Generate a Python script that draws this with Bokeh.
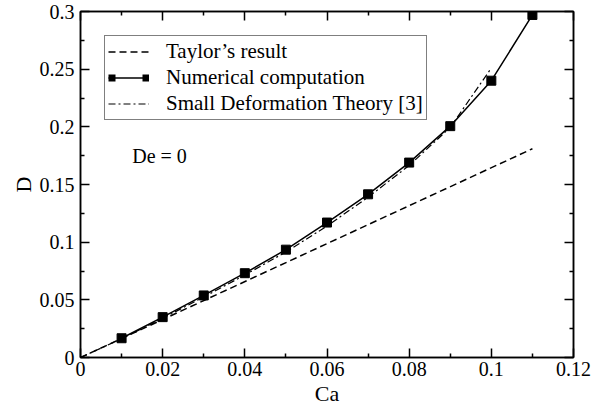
from bokeh.plotting import figure
from bokeh.models import (Range1d, LinearAxis, FixedTicker, Legend, LegendItem,
                          Label, CustomJSTickFormatter)
from bokeh.embed import file_html
from bokeh.resources import INLINE

FONT = "Liberation Serif, Times New Roman, serif"

# ---- data ----
ca_taylor = [0.0, 0.11]
d_taylor = [0.0, 0.181]

ca_num = [0.01, 0.02, 0.03, 0.04, 0.05, 0.06, 0.07, 0.08, 0.09, 0.10, 0.11]
d_num = [0.0167, 0.0350, 0.0538, 0.0731, 0.0935, 0.1170, 0.1415, 0.1690, 0.2006, 0.2400, 0.2970]

ca_sdt = [0.0, 0.01, 0.02, 0.03, 0.04, 0.05, 0.06, 0.07, 0.08, 0.09, 0.10]
d_sdt = [0.0, 0.0163, 0.0340, 0.0525, 0.0715, 0.0915, 0.1140, 0.1390, 0.1665, 0.1995, 0.2510]

x_ticks = [0.0, 0.02, 0.04, 0.06, 0.08, 0.10, 0.12]
x_tick_labels = ["0", "0.02", "0.04", "0.06", "0.08", "0.1", "0.12"]
x_minor = [0.01, 0.03, 0.05, 0.07, 0.09, 0.11]
y_ticks = [0.0, 0.05, 0.10, 0.15, 0.20, 0.25, 0.30]
y_tick_labels = ["0", "0.05", "0.1", "0.15", "0.2", "0.25", "0.3"]
y_minor = [0.025, 0.075, 0.125, 0.175, 0.225, 0.275]

legend_labels = ["Taylor\u2019s result", "Numerical computation", "Small Deformation Theory [3]"]
annotation_text = "De = 0"

p = figure(width=611, height=415, x_range=Range1d(0, 0.12), y_range=Range1d(0, 0.3),
           output_backend="svg", toolbar_location=None,
           min_border_left=80, min_border_right=38, min_border_top=11, min_border_bottom=58,
           x_axis_label="Ca", y_axis_label="D")
p.xgrid.grid_line_color = None
p.ygrid.grid_line_color = None
p.outline_line_color = "black"
p.outline_line_width = 1.5
p.background_fill_color = "white"
p.border_fill_color = "white"


def style(ax, ticks, minor, labels, show):
    ax.ticker = FixedTicker(ticks=ticks, minor_ticks=minor)
    ax.axis_line_color = "black"
    ax.axis_line_width = 1.5
    ax.major_tick_in = 9
    ax.major_tick_out = 0
    ax.minor_tick_in = 4
    ax.minor_tick_out = 0
    ax.major_tick_line_width = 1.5
    ax.minor_tick_line_width = 1.5
    ax.major_tick_line_color = "black"
    ax.minor_tick_line_color = "black"
    ax.major_label_text_font = FONT
    ax.major_label_text_color = "black"
    ax.major_label_text_font_size = "20px"
    ax.axis_label_text_font = FONT
    ax.axis_label_text_font_style = "normal"
    ax.axis_label_text_font_size = "22px"
    ax.axis_label_text_color = "black"
    if show:
        ax.major_label_overrides = {t: l for t, l in zip(ticks, labels)}
    else:
        ax.formatter = CustomJSTickFormatter(code="return ''")
        ax.major_label_standoff = 0


xb = p.xaxis[0]
yl = p.yaxis[0]
style(xb, x_ticks, x_minor, x_tick_labels, True)
style(yl, y_ticks, y_minor, y_tick_labels, True)
xb.major_label_standoff = 4
xb.axis_label_standoff = 2
yl.major_label_standoff = 6
yl.axis_label_standoff = 1

xt = LinearAxis()
style(xt, x_ticks, x_minor, x_tick_labels, False)
p.add_layout(xt, "above")
yr = LinearAxis()
style(yr, y_ticks, y_minor, y_tick_labels, False)
p.add_layout(yr, "right")

r_taylor = p.line(ca_taylor, d_taylor, line_color="black", line_width=1.5, line_dash="7 4")
r_num = p.line(ca_num, d_num, line_color="black", line_width=1.5)
p.scatter(ca_num, d_num, marker="square", size=9, fill_color="black", line_color="black")
r_sdt = p.line(ca_sdt, d_sdt, line_color="black", line_width=1.2, line_dash="7 3 2 3")

# legend-only key: a one-point line draws nothing in the plot, but in the legend its
# thick dashed stroke gives the two end squares of the "Numerical computation" sample
r_num_key = p.line(x=ca_num[:1], y=d_num[:1], line_color="black", line_width=7,
                   line_dash="7 27", line_cap="butt")

legend = Legend(items=[LegendItem(label=legend_labels[0], renderers=[r_taylor]),
                       LegendItem(label=legend_labels[1], renderers=[r_num, r_num_key]),
                       LegendItem(label=legend_labels[2], renderers=[r_sdt])],
                location="top_left", margin=24, padding=3, spacing=1,
                glyph_width=41, glyph_height=23, label_height=23, label_standoff=17,
                label_text_font=FONT, label_text_font_size="21px", label_text_color="black",
                border_line_color="black", border_line_width=1.2,
                background_fill_color="white", background_fill_alpha=1.0)
p.add_layout(legend, "center")

p.add_layout(Label(x=0.0126, y=0.1743, text=annotation_text, text_font=FONT,
                   text_font_size="20px", text_baseline="alphabetic", text_color="black"))

open("out.html", "w").write(file_html(p, INLINE))
